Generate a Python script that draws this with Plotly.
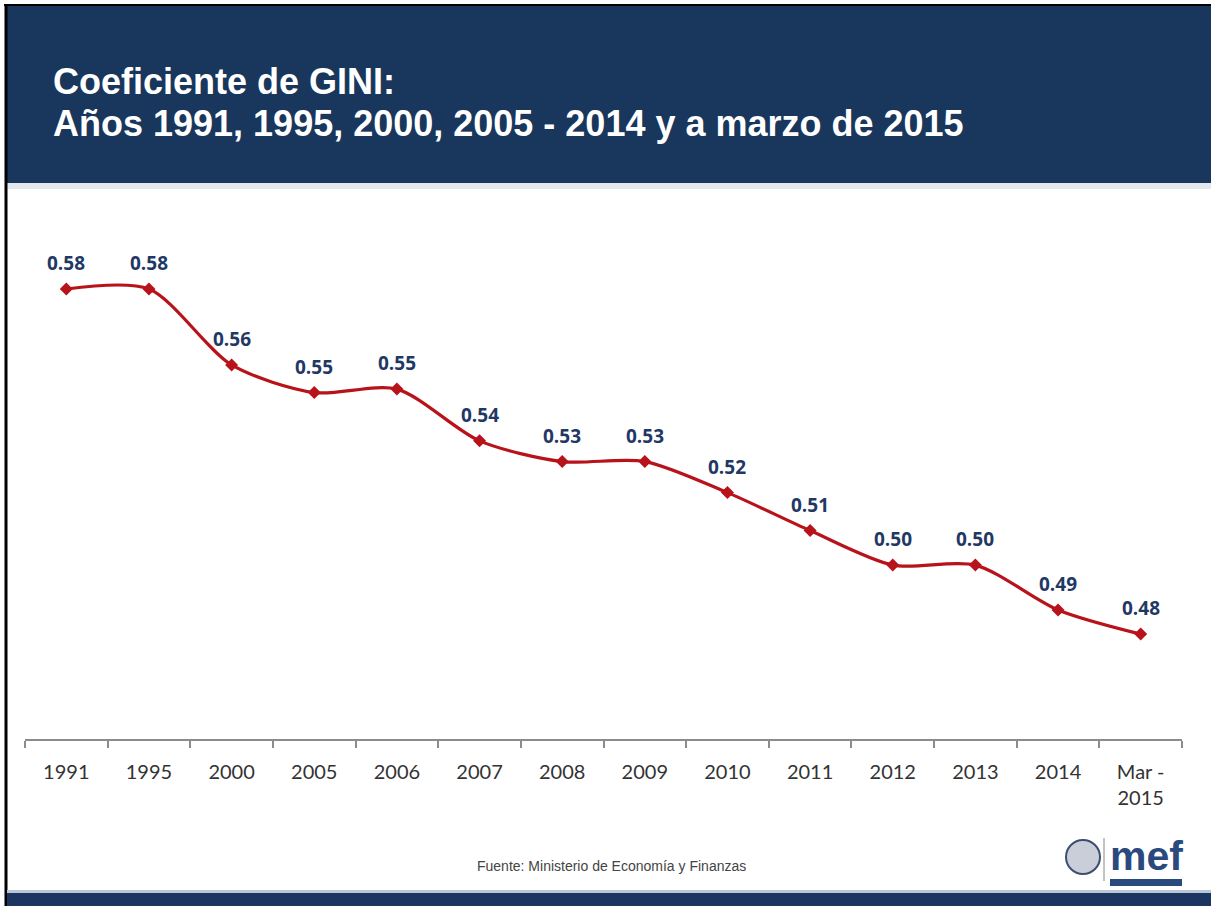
import plotly.graph_objects as go

categories = ["1991", "1995", "2000", "2005", "2006", "2007", "2008", "2009",
              "2010", "2011", "2012", "2013", "2014", "Mar -<br>2015"]
gini = [0.580, 0.580, 0.558, 0.550, 0.551, 0.536, 0.530, 0.530,
        0.521, 0.510, 0.500, 0.500, 0.487, 0.480]

title_line1 = "Coeficiente de GINI:"
title_line2 = "Años 1991, 1995, 2000, 2005 - 2014 y a marzo de 2015"
source_text = "Fuente: Ministerio de Economía y Finanzas"

W, H = 1211, 906
L, R, T, B = 25, 29, 200, 167
PW, PH = W - L - R, H - T - B

def px(xp):
    return (xp - L) / PW

def py(yp):
    return (H - B - yp) / PH

NAVY = "#19365c"
RED = "#b8121a"
LABEL = "#1f3864"

fig = go.Figure()
fig.add_trace(go.Scatter(
    x=categories, y=gini, mode="lines+markers",
    line=dict(color=RED, width=3.2, shape="spline", smoothing=0.8),
    marker=dict(symbol="diamond", size=10, color=RED),
    hoverinfo="skip", showlegend=False,
))

annotations = []
for i, v in enumerate(gini):
    annotations.append(dict(
        x=i, y=v, xref="x", yref="y", text=f"<b>{v:.2f}</b>",
        showarrow=False, yshift=26,
        font=dict(family="Open Sans", size=19, color=LABEL),
    ))

annotations += [
    dict(x=px(51), y=py(81), xref="paper", yref="paper", xanchor="left", yanchor="middle",
         text=f"<b>{title_line1}</b>", showarrow=False,
         font=dict(family="Liberation Sans, Arial", size=36, color="white")),
    dict(x=px(51), y=py(123), xref="paper", yref="paper", xanchor="left", yanchor="middle",
         text=f"<b>{title_line2}</b>", showarrow=False,
         font=dict(family="Liberation Sans, Arial", size=36, color="white")),
    dict(x=px(611), y=py(866), xref="paper", yref="paper", xanchor="center", yanchor="middle",
         text=source_text, showarrow=False,
         font=dict(family="Liberation Sans, Arial", size=14, color="#444444")),
    dict(x=px(1146), y=py(856), xref="paper", yref="paper", xanchor="center", yanchor="middle",
         text="<b>mef</b>", showarrow=False,
         font=dict(family="Liberation Sans, Arial", size=41, color="#2a4a7e")),
]

shapes = [
    # header band
    dict(type="rect", xref="paper", yref="paper", x0=px(6), x1=px(W + 2), y0=py(183), y1=py(6),
         fillcolor=NAVY, line=dict(width=0), layer="below"),
    # header shadow
    dict(type="rect", xref="paper", yref="paper", x0=px(6), x1=px(W + 2), y0=py(189), y1=py(183),
         fillcolor="#e3e7ee", line=dict(width=0), layer="below"),
    # top black line
    dict(type="line", xref="paper", yref="paper", x0=px(4), x1=px(W + 2), y0=py(5), y1=py(5),
         line=dict(color="black", width=2)),
    # left black border
    dict(type="line", xref="paper", yref="paper", x0=px(6), x1=px(6), y0=py(4), y1=py(H + 2),
         line=dict(color="black", width=3)),
    # bottom band
    dict(type="rect", xref="paper", yref="paper", x0=px(7), x1=px(W + 2), y0=py(H + 2), y1=py(893),
         fillcolor="#1c3560", line=dict(width=0)),
    dict(type="rect", xref="paper", yref="paper", x0=px(7), x1=px(W + 2), y0=py(893), y1=py(890),
         fillcolor="#b8c6d6", line=dict(width=0)),
    # logo globe
    dict(type="circle", xref="paper", yref="paper", x0=px(1066), x1=px(1100), y0=py(874), y1=py(840),
         fillcolor="#c9ced8", line=dict(color="#3c4e70", width=2)),
    dict(type="line", xref="paper", yref="paper", x0=px(1104), x1=px(1104), y0=py(881), y1=py(838),
         line=dict(color="#888888", width=1)),
    dict(type="rect", xref="paper", yref="paper", x0=px(1110), x1=px(1182), y0=py(886), y1=py(879),
         fillcolor="#2a4a7e", line=dict(width=0)),
]

fig.update_layout(
    width=W, height=H,
    margin=dict(l=L, r=R, t=T, b=B),
    paper_bgcolor="white", plot_bgcolor="white",
    annotations=annotations, shapes=shapes,
    xaxis=dict(
        type="category", range=[-0.5, len(categories) - 0.5],
        showline=True, linecolor="#8c8c8c", linewidth=1.5,
        ticks="outside", tickson="boundaries", ticklen=7, tickcolor="#8c8c8c", tickwidth=1.5,
        ticklabelstandoff=14,
        showgrid=False, zeroline=False,
        tickfont=dict(family="Lato", size=20, color="#333333"),
        fixedrange=True,
    ),
    yaxis=dict(range=[0.4496, 0.6058], visible=False, showgrid=False, zeroline=False, fixedrange=True),
)

fig.write_html("out.html", config={"displayModeBar": False},
               post_script="document.body.style.margin='0';")
